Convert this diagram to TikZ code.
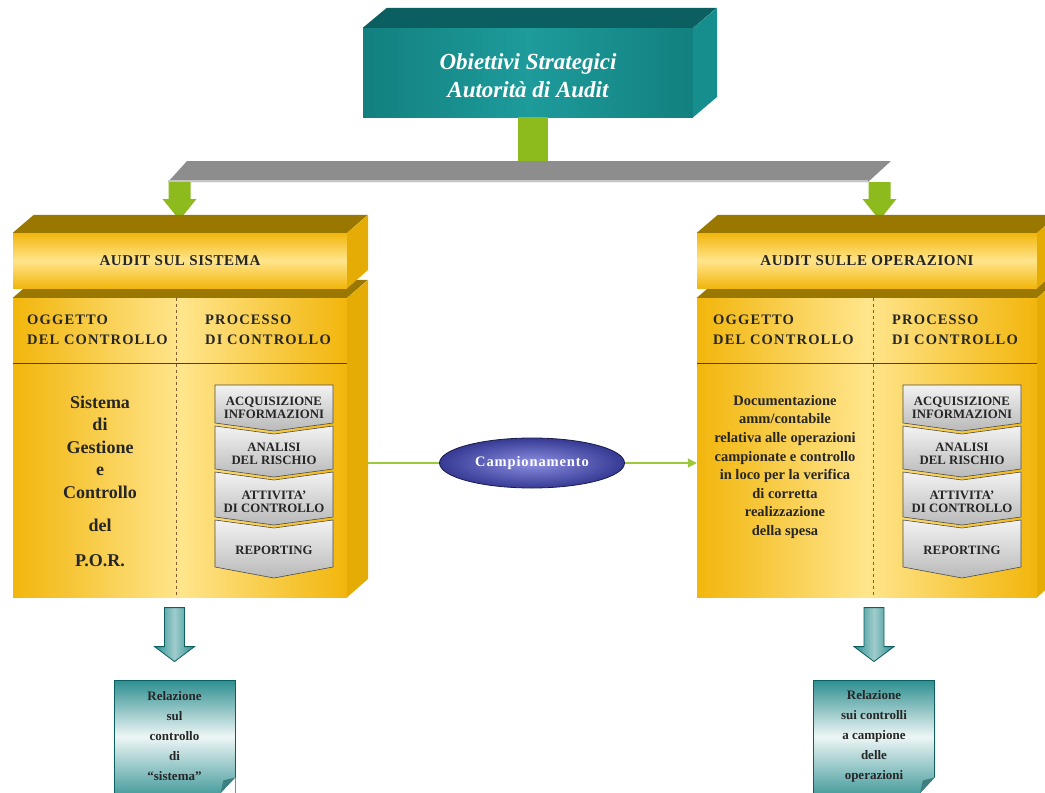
\documentclass[tikz,border=0pt]{standalone}
\usepackage{fontspec}
\setmainfont{Liberation Serif}
\usetikzlibrary{positioning, shapes.geometric, calc, arrows.meta}

\definecolor{tealscuro}{HTML}{0C5F61}
\definecolor{tealfronte}{HTML}{12807F}
\definecolor{tealchiaro}{HTML}{1E9B9B}
\definecolor{tealfianco}{HTML}{178E8E}
\definecolor{orocima}{HTML}{9A7800}
\definecolor{orobordo}{HTML}{F2B60C}
\definecolor{orochiaro}{HTML}{FFE58C}
\definecolor{orofianco}{HTML}{E6AC06}
\definecolor{grigiobarra}{HTML}{8D8D8D}
\definecolor{verdestelo}{HTML}{8DBA1C}
\definecolor{verdelinea}{HTML}{9CC83A}
\definecolor{blucentro}{HTML}{8C8FE0}
\definecolor{blubordo}{HTML}{363A94}
\definecolor{tealdoc}{HTML}{2C8E8F}

\tikzset{
    facciata/.style={
        draw=none,
        inner sep=0pt,
        left color=orobordo,
        right color=orobordo,
        middle color=orochiaro
    },
    testata/.style={
        draw=none,
        inner sep=0pt,
        top color=orobordo,
        bottom color=orobordo,
        middle color=orochiaro,
        font=\bfseries\fontsize{15}{18}\selectfont\addfontfeatures{LetterSpace=4},
        text=black!85
    },
    cima/.style={fill=orocima},
    fianco/.style={fill=orofianco},
    etichetta/.style={
        anchor=west,
        align=left,
        inner sep=0pt,
        font=\bfseries\fontsize{14.5}{20}\selectfont\addfontfeatures{LetterSpace=8},
        text=black!85
    },
    gallone/.style={
        top color=gray!10,
        bottom color=gray!55,
        draw=gray!60!black,
        line width=0.6pt
    },
    voce/.style={
        align=center,
        inner sep=0pt,
        font=\bfseries\fontsize{12.8}{13.5}\selectfont,
        text=black!85
    },
    collegamento/.style={draw=verdelinea, line width=1.6pt},
    divisorio/.style={draw=brown!70!black, dashed, line width=0.8pt},
    documento/.style={
        draw=tealscuro,
        line width=0.8pt,
        top color=tealdoc,
        bottom color=tealdoc!85,
        middle color=tealdoc!8,
        minimum width=121pt,
        minimum height=113pt,
        inner sep=0pt,
        align=center,
        font=\bfseries\fontsize{13}{20}\selectfont,
        text=black!85
    },
    frecciablu/.style={
        draw=tealscuro,
        line width=0.8pt,
        left color=tealdoc,
        right color=tealdoc,
        middle color=tealdoc!45
    }
}

\begin{document}
\begin{tikzpicture}[x=1pt, y=-1pt]

    \useasboundingbox (0,0) rectangle (1045,793);
    \clip (0,0) rectangle (1045,793);
    \fill[white] (0,0) rectangle (1045,793);

    % blocco in alto
    \node[inner sep=0pt, minimum width=330pt, minimum height=89pt,
          left color=tealfronte, right color=tealfronte, middle color=tealchiaro] (obj) at (528,72.5) {};
    \fill[tealscuro] (obj.north west) -- ++(24,-20) -- ++(330,0) -- (obj.north east) -- cycle;
    \fill[tealfianco] (obj.north east) -- ++(24,-20) -- ++(0,89) -- (obj.south east) -- cycle;
    \node[text=white, align=center, inner sep=0pt,
          font=\bfseries\itshape\fontsize{23}{28}\selectfont] (titolo) at (528,76)
          {Obiettivi Strategici\\Autorità di Audit};

    % barra grigia
    \coordinate (barra) at (537.5,161);
    \coordinate (lgiu) at (179.5,182);
    \coordinate (rgiu) at (879.5,182);
    \fill[grigiobarra] (187,161) -- (891,161) -- (868,182) -- (168,182) -- cycle;
    \draw[gray!45, line width=1.5pt] (168,181) -- (868,181);
    \fill[verdestelo] ([xshift=-10.5pt]obj.south) rectangle ([xshift=10.5pt]barra);

    % frecce verdi
    \foreach \giu in {lgiu, rgiu} {
        \fill[verdestelo] (\giu) ++(-11,0) -- ++(22,0) -- ++(0,17) -- ++(6,0)
            -- ++(-17,21) -- ++(-17,-21) -- ++(6,0) -- cycle;
    }

    % pannelli
    \node[facciata, minimum width=334pt, minimum height=299pt] (lbody) at (180,447.5) {};
    \node[facciata, minimum width=340pt, minimum height=299pt] (rbody) at (867,447.5) {};
    \foreach \p/\w in {lbody/334, rbody/340} {
        \fill[cima] (\p.north west) -- ++(21,-18) -- ++(\w,0) -- (\p.north east) -- cycle;
        \fill[fianco] (\p.north east) -- ++(21,-18) -- ++(0,299) -- (\p.south east) -- cycle;
    }
    \node[testata, minimum width=334pt, minimum height=55pt] (lhead) at (180,260.5) {AUDIT SUL SISTEMA};
    \node[testata, minimum width=340pt, minimum height=55pt] (rhead) at (867,260.5) {AUDIT SULLE OPERAZIONI};
    \foreach \p/\w in {lhead/334, rhead/340} {
        \fill[cima] (\p.north west) -- ++(21,-18) -- ++(\w,0) -- (\p.north east) -- cycle;
        \fill[fianco] (\p.north east) -- ++(21,-18) -- ++(0,55) -- (\p.south east) -- cycle;
    }

    % righe e divisori
    \draw[black!75, line width=0.8pt] ($(lbody.north west)+(0,66)$) -- ($(lbody.north east)+(0,66)$);
    \draw[black!75, line width=0.8pt] ($(rbody.north west)+(0,66)$) -- ($(rbody.north east)+(0,66)$);
    \draw[divisorio] ([xshift=-4pt]lbody.north) -- ([xshift=-4pt]lbody.south);
    \draw[divisorio] ([xshift=6pt]rbody.north) -- ([xshift=6pt]rbody.south);

    \node[etichetta] (logg) at (27,330) {OGGETTO\\DEL CONTROLLO};
    \node[etichetta] (lpro) at (205,330) {PROCESSO\\DI CONTROLLO};
    \node[etichetta] (rogg) at (713,330) {OGGETTO\\DEL CONTROLLO};
    \node[etichetta] (rpro) at (892,330) {PROCESSO\\DI CONTROLLO};

    \node[align=center, inner sep=0pt, text=black!85,
          font=\bfseries\fontsize{18}{22.5}\selectfont] (lsis) at (100,481)
          {Sistema\\di\\Gestione\\e\\Controllo\\[11pt]del\\[12pt]P.O.R.};
    \node[align=center, inner sep=0pt, text=black!85,
          font=\bfseries\fontsize{14.5}{18.6}\selectfont] (rdoc) at (785,467)
          {Documentazione\\amm/contabile\\relativa alle operazioni\\campionate e controllo\\in loco per la verifica\\di corretta\\realizzazione\\della spesa};

    % galloni del processo
    \foreach \px/\pn in {215/l, 903/r} {
        \foreach \t/\h/\n/\d/\tc/\testo [count=\k] in
            {385/38/0/8/408/{ACQUISIZIONE\\INFORMAZIONI},
             426/43/8/8/454/{ANALISI\\DEL RISCHIO},
             472/45/8/8/502/{ATTIVITA’\\DI CONTROLLO},
             520/47/8/11/550/{REPORTING}} {
            \shade[gallone] (\px,\t) -- ++(59,\n) -- ++(59,-\n) -- ++(0,\h)
                -- ++(-59,\d) -- ++(-59,-\d) -- cycle;
            \node[voce] (\pn gal\k) at (\px+59,\tc) {\testo};
        }
    }

    % campionamento
    \node[ellipse, minimum width=185pt, minimum height=50pt, inner sep=0pt,
          draw=blubordo!50!black, line width=0.8pt,
          inner color=blucentro, outer color=blubordo,
          text=white, font=\bfseries\fontsize{14.5}{16}\selectfont\addfontfeatures{LetterSpace=6}]
          (camp) at (532,463) {Campionamento};
    \draw[collegamento] ($(lbody.east |- camp)+(21,0)$) -- (camp);
    \draw[collegamento, -{Triangle[length=9pt, width=9pt]}] (camp) -- (rbody.west |- camp);

    % relazioni finali
    \node[documento] (lrel) at (174.5,736.5) {Relazione\\sul\\controllo\\di\\“sistema”};
    \node[documento] (rrel) at (874,736.5) {Relazione\\sui controlli\\a campione\\delle\\operazioni};
    \foreach \r in {lrel, rrel} {
        \fill[white] (\r.south east) -- ++(0,-16) -- ++(-15,16) -- cycle;
        \fill[tealscuro!80] ($(\r.south east)+(0,-16)$) -- ($(\r.south east)+(-15,0)$)
            -- ($(\r.south east)+(-12,-13)$) -- cycle;
        \shade[frecciablu] (\r.north) ++(0,-18) -- ++(20,-15) -- ++(-10,0) -- ++(0,-39)
            -- ++(-20,0) -- ++(0,39) -- ++(-10,0) -- cycle;
    }

\end{tikzpicture}
\end{document}
